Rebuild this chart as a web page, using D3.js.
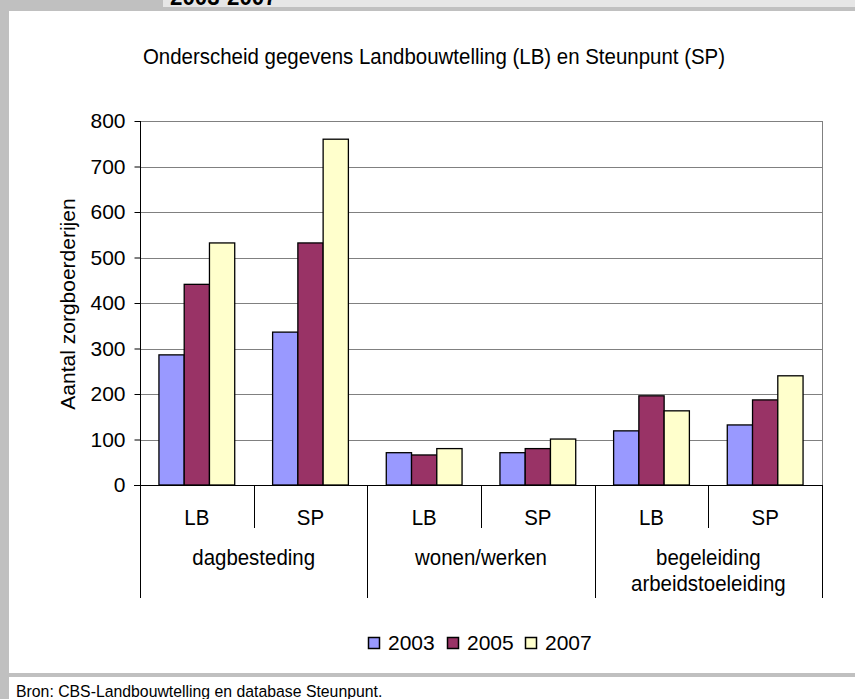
<!DOCTYPE html>
<html>
<head>
<meta charset="utf-8">
<script src="https://cdn.jsdelivr.net/npm/d3@7"></script>
<style>
  body { margin: 0; background: #fff; }
  svg { display: block; }
</style>
</head>
<body>
<svg width="855" height="699"></svg>
<script>
// data
var groups = ['dagbesteding', 'wonen/werken', 'begeleiding arbeidstoeleiding'];
var sources = ['LB', 'SP'];
var years = ['2003', '2005', '2007'];
var values2003 = [286, 336, 71, 71, 119, 132];
var values2005 = [441, 532, 66, 80, 196, 187];
var values2007 = [532, 760, 80, 101, 163, 240];
var yTicks = [0, 100, 200, 300, 400, 500, 600, 700, 800];
var colors = ['#9999ff', '#993366', '#ffffcc'];

const font = '"Liberation Sans", Arial, sans-serif';
const squeeze = 0.93; // the original uses a slightly narrow face

const svg = d3.select('svg');
const width = +svg.attr('width');
const height = +svg.attr('height');

// narrow text: position with a translate, then squeeze horizontally
function narrow(sel, x, y) {
  return sel.attr('transform', `translate(${x},${y}) scale(${squeeze},1)`);
}

// frame around the chart, like the page it was cut from
svg.append('rect').attr('x', 0).attr('y', 0).attr('width', 9).attr('height', height).attr('fill', '#c0c0c0');
svg.append('rect').attr('x', 0).attr('y', 0).attr('width', width).attr('height', 11).attr('fill', '#c0c0c0');
svg.append('rect').attr('x', 163).attr('y', 0).attr('width', width - 163).attr('height', 7).attr('fill', '#e6e6e6');
svg.append('rect').attr('x', 0).attr('y', 673).attr('width', width).attr('height', 4).attr('fill', '#c0c0c0');
svg.append('text')
  .call(narrow, 170, 5)
  .attr('font-family', font).attr('font-weight', 'bold').attr('font-size', 24)
  .text('2003-2007');

const margin = {left: 140, right: 822, top: 121, bottom: 485};

// one column per group + source
var cats = [];
groups.forEach(g => sources.forEach(s => cats.push(g + '|' + s)));

const x0 = d3.scaleBand().domain(cats).range([margin.left, margin.right]);
const x1 = d3.scaleBand().domain(years).range([0, x0.bandwidth()]).paddingInner(0).paddingOuter(0.75);
const xg = d3.scaleBand().domain(groups).range([margin.left, margin.right]);
const y = d3.scaleLinear().domain([0, 800]).range([margin.bottom, margin.top]);

// gridlines
svg.append('g')
  .selectAll('line')
  .data(yTicks.filter(d => d > 0))
  .join('line')
  .attr('x1', margin.left).attr('x2', margin.right)
  .attr('y1', d => Math.round(y(d)) + 0.5).attr('y2', d => Math.round(y(d)) + 0.5)
  .attr('stroke', '#808080');

svg.append('line')
  .attr('x1', margin.right + 0.5).attr('x2', margin.right + 0.5)
  .attr('y1', margin.top).attr('y2', margin.bottom)
  .attr('stroke', '#808080');

// bars
var series = [values2003, values2005, values2007];
var bars = [];
series.forEach((vals, i) => vals.forEach((v, j) => bars.push({cat: cats[j], year: years[i], value: v, color: colors[i]})));

svg.append('g')
  .selectAll('rect')
  .data(bars)
  .join('rect')
  .attr('x', d => x0(d.cat) + x1(d.year))
  .attr('y', d => y(d.value))
  .attr('width', x1.bandwidth())
  .attr('height', d => y(0) - y(d.value))
  .attr('fill', d => d.color)
  .attr('stroke', '#000')
  .attr('stroke-width', 1.3);

// y axis
const yAxis = d3.axisLeft(y).tickValues(yTicks).tickSize(6).tickPadding(9);
const gy = svg.append('g')
  .attr('transform', `translate(${margin.left + 0.5},0)`)
  .call(yAxis);
gy.select('.domain').remove();
gy.append('line').attr('y1', margin.top).attr('y2', 598).attr('stroke', '#000');
gy.selectAll('.tick line').attr('stroke', '#000');
gy.selectAll('.tick text')
  .attr('font-family', font).attr('font-size', 21).attr('fill', '#000');

// x axis: category row and group row
const xa = svg.append('g');
xa.append('line')
  .attr('x1', margin.left - 6).attr('x2', margin.right + 1)
  .attr('y1', margin.bottom + 0.5).attr('y2', margin.bottom + 0.5)
  .attr('stroke', '#000');

xa.selectAll('.sep')
  .data(cats.slice(1))
  .join('line')
  .attr('x1', d => Math.round(x0(d)) + 0.5).attr('x2', d => Math.round(x0(d)) + 0.5)
  .attr('y1', margin.bottom)
  .attr('y2', d => d.endsWith('|LB') ? 598 : 528)
  .attr('stroke', '#000');

xa.append('line')
  .attr('x1', margin.right + 0.5).attr('x2', margin.right + 0.5)
  .attr('y1', margin.bottom).attr('y2', 598)
  .attr('stroke', '#000');

xa.selectAll('.cat')
  .data(cats)
  .join('text')
  .each(function (d) { narrow(d3.select(this), x0(d) + x0.bandwidth() / 2, 525); })
  .attr('text-anchor', 'middle')
  .attr('font-family', font).attr('font-size', 22)
  .text(d => d.split('|')[1]);

xa.selectAll('.grp')
  .data(groups)
  .join('text')
  .each(function (d) { narrow(d3.select(this), xg(d) + xg.bandwidth() / 2, 565); })
  .attr('text-anchor', 'middle')
  .attr('font-family', font).attr('font-size', 22)
  .selectAll('tspan')
  .data(d => d.split(' '))
  .join('tspan')
  .attr('x', 0)
  .attr('dy', (d, i) => i ? 26 : 0)
  .text(d => d);

// titles
svg.append('text')
  .call(narrow, 434, 64)
  .attr('text-anchor', 'middle')
  .attr('font-family', font).attr('font-size', 22)
  .text('Onderscheid gegevens Landbouwtelling (LB) en Steunpunt (SP)');

svg.append('text')
  .attr('transform', 'translate(75,304) rotate(-90)')
  .attr('text-anchor', 'middle')
  .attr('font-family', font).attr('font-size', 21)
  .text('Aantal zorgboerderijen');

// legend
const legend = svg.append('g')
  .attr('font-family', font).attr('font-size', 21);
var lx = [368, 447, 525];
years.forEach((yr, i) => {
  legend.append('rect')
    .attr('x', lx[i] + 0.5).attr('y', 637.5).attr('width', 11).attr('height', 11)
    .attr('fill', colors[i]).attr('stroke', '#000').attr('stroke-width', 1.5);
  legend.append('text')
    .attr('x', lx[i] + 20).attr('y', 650)
    .text(yr);
});

svg.append('text')
  .call(narrow, 16, 697)
  .attr('font-family', font).attr('font-size', 17)
  .text('Bron: CBS-Landbouwtelling en database Steunpunt.');
</script>
</body>
</html>
